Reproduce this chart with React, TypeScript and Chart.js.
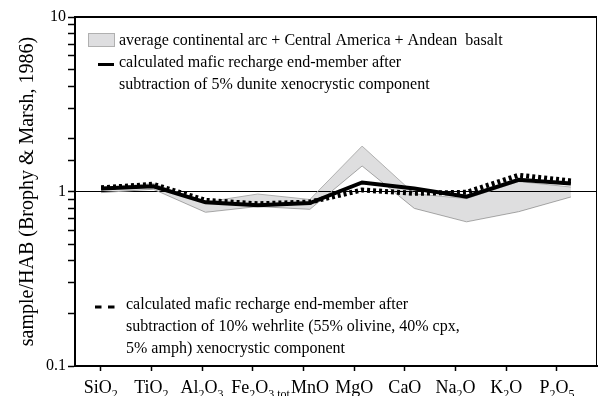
import React, { useEffect, useRef } from 'react';
import { Chart, registerables } from 'chart.js';

Chart.register(...registerables);

// ---- data ----
const oxides = ['SiO2', 'TiO2', 'Al2O3', 'Fe2O3 tot', 'MnO', 'MgO', 'CaO', 'Na2O', 'K2O', 'P2O5'];
// label pieces: n = normal, s = subscript, t = trailing subscript (not centred)
const oxideLabelParts: [string, string][][] = [
  [['SiO', 'n'], ['2', 's']],
  [['TiO', 'n'], ['2', 's']],
  [['Al', 'n'], ['2', 's'], ['O', 'n'], ['3', 's']],
  [['Fe', 'n'], ['2', 's'], ['O', 'n'], ['3', 's'], [' tot', 't']],
  [['MnO', 'n']],
  [['MgO', 'n']],
  [['CaO', 'n']],
  [['Na', 'n'], ['2', 's'], ['O', 'n']],
  [['K', 'n'], ['2', 's'], ['O', 'n']],
  [['P', 'n'], ['2', 's'], ['O', 'n'], ['5', 's']],
];
const dunite5 = [1.04, 1.07, 0.867, 0.834, 0.859, 1.126, 1.04, 0.934, 1.168, 1.11];
const wehrlite10 = [1.05, 1.1, 0.89, 0.85, 0.87, 1.02, 0.976, 0.99, 1.24, 1.15];
const arcUpper = [1.05, 1.11, 0.87, 0.967, 0.9, 1.82, 0.97, 0.91, 1.14, 1.06];
const arcLower = [0.985, 1.03, 0.76, 0.82, 0.79, 1.4, 0.8, 0.67, 0.766, 0.93];
const yTickLabels = [10, 1, 0.1];

const legendTop = [
  'average continental arc + Central America + Andean  basalt',
  'calculated mafic recharge end-member after',
  'subtraction of 5% dunite xenocrystic component',
];
const legendBottom = [
  'calculated mafic recharge end-member after',
  'subtraction of 10% wehrlite (55% olivine, 40% cpx,',
  '5% amph) xenocrystic component',
];
const yTitle = 'sample/HAB (Brophy & Marsh, 1986)';

const SERIF = '"Liberation Serif", "Times New Roman", serif';
const BAND_FILL = 'rgba(0,0,8,0.13)';
const BAND_EDGE = '#b0b0b0';

const toPts = (arr: number[]) => arr.map((v, i) => ({ x: i, y: v }));

const decorPlugin = {
  id: 'decor',
  afterDraw(chart: any) {
    const { ctx, chartArea } = chart;
    const { left, right, top, bottom } = chartArea;
    const x2 = chart.scales.x2;
    ctx.save();
    // frame top & right
    ctx.strokeStyle = '#000';
    ctx.lineWidth = 2;
    ctx.beginPath();
    ctx.moveTo(left - 1, top);
    ctx.lineTo(right, top);
    ctx.stroke();
    ctx.lineWidth = 1;
    ctx.beginPath();
    ctx.moveTo(right - 0.5, top);
    ctx.lineTo(right - 0.5, bottom);
    ctx.stroke();

    // x labels with subscripts
    const mainFont = `18px ${SERIF}`;
    const subFont = `12px ${SERIF}`;
    const base = bottom + 27;
    ctx.fillStyle = '#000';
    ctx.textBaseline = 'alphabetic';
    ctx.textAlign = 'left';
    let prevEnd = -Infinity;
    oxideLabelParts.forEach((segs, i) => {
      const cx = x2.getPixelForValue(i);
      let core = 0;
      const widths = segs.map(([t, k]) => {
        ctx.font = k === 'n' ? mainFont : subFont;
        const w = ctx.measureText(t).width;
        if (k !== 't') core += w;
        return w;
      });
      let x = Math.max(cx - core / 2, prevEnd + 1);
      segs.forEach(([t, k], j) => {
        ctx.font = k === 'n' ? mainFont : subFont;
        ctx.fillText(t, x, k === 'n' ? base : base + 4.5);
        x += widths[j];
      });
      prevEnd = x;
    });

    // legends
    ctx.font = `16px ${SERIF}`;
    const tx = left + 44;
    // grey box
    ctx.fillStyle = '#dedee0';
    ctx.fillRect(left + 13, top + 16, 27, 14);
    ctx.strokeStyle = BAND_EDGE;
    ctx.lineWidth = 1;
    ctx.strokeRect(left + 13.5, top + 16.5, 26, 13);
    // solid sample
    ctx.strokeStyle = '#000';
    ctx.lineWidth = 3;
    ctx.beginPath();
    ctx.moveTo(left + 23, top + 47.5);
    ctx.lineTo(left + 39, top + 47.5);
    ctx.stroke();
    ctx.fillStyle = '#000';
    legendTop.forEach((s, i) => ctx.fillText(s, tx, top + 28 + i * 22));

    // dashed sample
    ctx.setLineDash([6.5, 6.5]);
    ctx.beginPath();
    ctx.moveTo(left + 20, bottom - 59);
    ctx.lineTo(left + 40, bottom - 59);
    ctx.stroke();
    ctx.setLineDash([]);
    legendBottom.forEach((s, i) => ctx.fillText(s, left + 51, bottom - 57 + i * 22));
    ctx.restore();
  },
};

export default function App() {
  const ref = useRef<HTMLCanvasElement>(null);
  useEffect(() => {
    if (!ref.current) return;
    const chart = new Chart(ref.current, {
      type: 'line',
      data: {
        datasets: [
          {
            label: 'arc upper',
            data: toPts(arcUpper),
            borderColor: BAND_EDGE,
            borderWidth: 1,
            backgroundColor: BAND_FILL,
            fill: '+1',
            pointRadius: 0,
            tension: 0,
            order: 3,
          },
          {
            label: 'arc lower',
            data: toPts(arcLower),
            borderColor: BAND_EDGE,
            borderWidth: 1,
            backgroundColor: BAND_FILL,
            fill: false,
            pointRadius: 0,
            tension: 0,
            order: 3,
          },
          {
            label: '5% dunite',
            data: toPts(dunite5),
            borderColor: '#000',
            borderWidth: 4,
            borderJoinStyle: 'miter',
            fill: false,
            pointRadius: 0,
            tension: 0,
            order: 2,
          },
          {
            label: '10% wehrlite',
            data: toPts(wehrlite10),
            borderColor: '#000',
            borderWidth: 5,
            borderDash: [3, 3],
            borderCapStyle: 'butt',
            fill: false,
            pointRadius: 0,
            tension: 0,
            order: 1,
          },
        ],
      },
      options: {
        animation: false,
        responsive: false,
        devicePixelRatio: 1,
        layout: { padding: { top: 17, right: 1, left: 0, bottom: 0 } },
        plugins: { legend: { display: false }, tooltip: { enabled: false } },
        scales: {
          x: { type: 'linear', min: -0.5, max: 9.5, display: false },
          x2: {
            type: 'linear',
            position: 'bottom',
            min: -0.507,
            max: 9.79,
            afterBuildTicks: (s: any) => {
              s.ticks = oxides.map((_, i) => ({ value: i }));
            },
            afterFit: (s: any) => {
              s.height = 30;
            },
            ticks: { callback: () => '', autoSkip: false },
            grid: { drawOnChartArea: false, drawTicks: true, tickLength: 5, tickColor: '#000', tickWidth: 1.5 },
            border: { display: true, color: '#000', width: 2 },
          },
          y: {
            type: 'logarithmic',
            min: 0.1,
            max: 10,
            afterFit: (s: any) => {
              s.width = 75;
            },
            ticks: {
              autoSkip: false,
              padding: 2,
              color: '#000',
              font: { family: SERIF, size: 16 },
              callback: (v: any) => {
                const n = Number(v);
                const hit = yTickLabels.find((t) => Math.abs(t - n) < 1e-9);
                return hit !== undefined ? String(hit) : '';
              },
            },
            grid: {
              drawOnChartArea: true,
              color: (c: any) => (c.tick && Math.abs(c.tick.value - 1) < 1e-9 ? '#000' : 'rgba(0,0,0,0)'),
              lineWidth: 1,
              tickColor: '#000',
              tickLength: 7,
              tickWidth: 1.5,
            },
            border: { display: true, color: '#000', width: 2 },
            title: {
              display: true,
              text: yTitle,
              color: '#000',
              font: { family: SERIF, size: 20 },
              padding: { top: 16, bottom: 0 },
            },
          },
        },
      },
      plugins: [decorPlugin],
    } as any);
    return () => chart.destroy();
  }, []);
  return (
    <div style={{ position: 'absolute', left: 0, top: 0, width: 598, height: 396 }}>
      <canvas ref={ref} width={598} height={396} style={{ display: 'block', width: 598, height: 396 }} />
    </div>
  );
}
